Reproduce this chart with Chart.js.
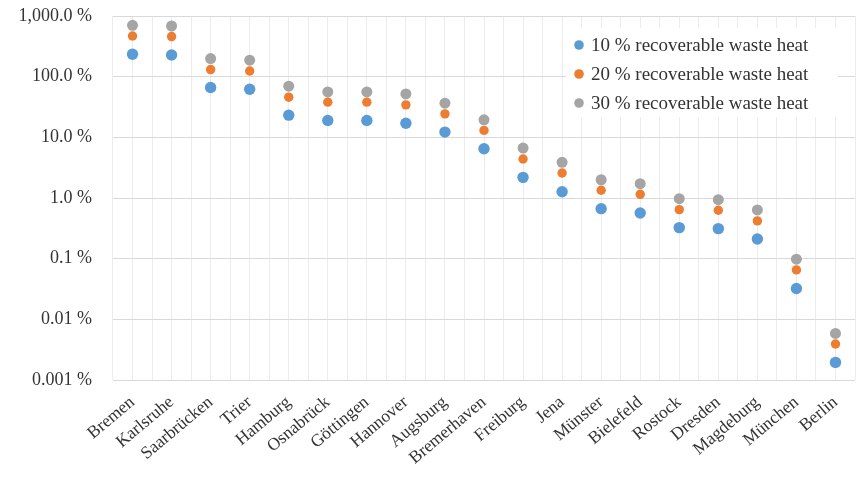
<!DOCTYPE html>
<html>
<head>
<meta charset="utf-8">
<script src="https://cdn.jsdelivr.net/npm/chart.js"></script>
<style>
  html, body { margin: 0; padding: 0; background: #ffffff; overflow: hidden; }
  #wrap { width: 856px; height: 480px; position: relative; }
</style>
</head>
<body>
<div id="wrap"><canvas id="chart"></canvas></div>
<script>
const cities = [
  "Bremen", "Karlsruhe", "Saarbrücken", "Trier", "Hamburg", "Osnabrück",
  "Göttingen", "Hannover", "Augsburg", "Bremerhaven", "Freiburg", "Jena",
  "Münster", "Bielefeld", "Rostock", "Dresden", "Magdeburg", "München", "Berlin"
];

// coverage in percent
const heat10 = [234, 228, 66.4, 62.2, 23.2, 19.0, 19.0, 17.1, 12.2, 6.48,
  2.19, 1.27, 0.667, 0.566, 0.325, 0.313, 0.211, 0.0322, 0.00195];
const heat20 = [469, 458, 131, 124, 45.9, 38.0, 38.0, 34.3, 24.4, 13.0,
  4.39, 2.58, 1.34, 1.15, 0.643, 0.628, 0.419, 0.0653, 0.00392];
const heat30 = [703, 684, 199, 187, 69.7, 56.1, 56.1, 52.0, 36.6, 19.4,
  6.65, 3.87, 2.0, 1.72, 0.975, 0.94, 0.635, 0.098, 0.00585];

const seriesNames = [
  "10 % recoverable waste heat",
  "20 % recoverable waste heat",
  "30 % recoverable waste heat"
];

const yTicks = [0.001, 0.01, 0.1, 1, 10, 100, 1000];
const yTickLabels = ["0.001 %", "0.01 %", "0.1 %", "1.0 %", "10.0 %", "100.0 %", "1,000.0 %"];

const textColor = "#333333";
const fontFamily = "'Liberation Serif', 'DejaVu Serif', serif";

// legend drawn inside the plot, on a white box
const boxLegend = {
  id: "boxLegend",
  afterDatasetsDraw(chart) {
    const ctx = chart.ctx;
    ctx.save();
    ctx.fillStyle = "#ffffff";
    ctx.fillRect(566, 28, 272, 89);
    ctx.font = "19px " + fontFamily;
    ctx.textBaseline = "middle";
    chart.data.datasets.forEach((ds, i) => {
      const y = 45 + i * 29;
      ctx.beginPath();
      ctx.arc(579, y, 4.8, 0, Math.PI * 2);
      ctx.fillStyle = ds.backgroundColor;
      ctx.fill();
      ctx.fillStyle = textColor;
      ctx.fillText(ds.label, 591, y + 1);
    });
    ctx.restore();
  }
};

const ctx = document.getElementById("chart").getContext("2d");
new Chart(ctx, {
  type: "line",
  data: {
    labels: cities,
    datasets: [
      { label: seriesNames[0], data: heat10, backgroundColor: "#5B9BD5", pointRadius: 5.7 },
      { label: seriesNames[1], data: heat20, backgroundColor: "#ED7D31", pointRadius: 4.7 },
      { label: seriesNames[2], data: heat30, backgroundColor: "#A5A5A5", pointRadius: 5.5 }
    ].map(d => Object.assign(d, {
      showLine: false,
      borderWidth: 0,
      borderColor: d.backgroundColor,
      pointBorderWidth: 0,
      pointHoverRadius: d.pointRadius
    }))
  },
  options: {
    responsive: true,
    maintainAspectRatio: false,
    animation: false,
    layout: { autoPadding: false, padding: { top: 16, right: 1, left: 0, bottom: 0 } },
    plugins: {
      legend: { display: false },
      tooltip: { enabled: false }
    },
    scales: {
      x: {
        type: "category",
        offset: true,
        grid: { offset: false, color: "#ececec", lineWidth: 1, drawTicks: false },
        border: { display: false },
        ticks: {
          color: textColor,
          font: { family: fontFamily, size: 17.5 },
          minRotation: 40,
          maxRotation: 40,
          autoSkip: false,
          padding: 12
        },
        afterFit(scale) {
          scale.height = 100;
          scale.paddingLeft = 0;
          scale.paddingRight = 0;
        }
      },
      x2: {
        type: "category",
        position: "bottom",
        offset: true,
        grid: { offset: true, color: "#ececec", lineWidth: 1, drawTicks: false },
        border: { display: false },
        ticks: { display: false },
        afterFit(scale) {
          scale.height = 0;
          scale.paddingLeft = 0;
          scale.paddingRight = 0;
        }
      },
      y: {
        type: "logarithmic",
        min: 0.001,
        max: 1000,
        grid: { color: "#d9d9d9", lineWidth: 1, drawTicks: false },
        border: { display: false },
        afterBuildTicks(scale) {
          scale.ticks = yTicks.map(v => ({ value: v }));
        },
        ticks: {
          color: textColor,
          font: { family: fontFamily, size: 18 },
          padding: 21,
          callback(value) {
            const i = yTicks.findIndex(t => Math.abs(t - value) / t < 1e-6);
            return i >= 0 ? yTickLabels[i] : "";
          }
        },
        afterFit(scale) {
          scale.width = 113;
          scale.paddingTop = 0;
          scale.paddingBottom = 0;
        }
      }
    }
  },
  plugins: [boxLegend]
});
</script>
</body>
</html>
